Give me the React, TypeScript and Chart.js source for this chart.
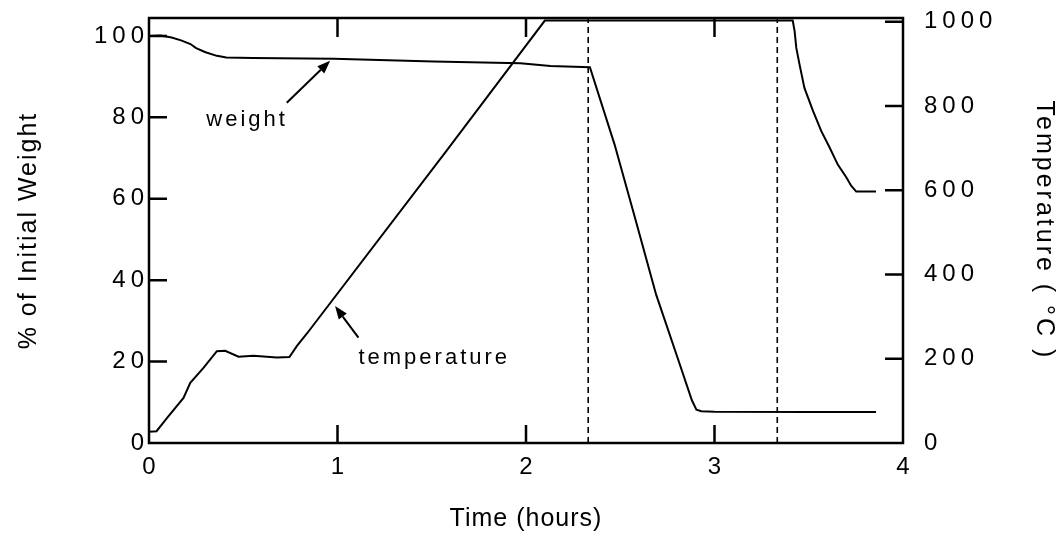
import React, { useEffect, useRef } from 'react';
import { Chart, registerables } from 'chart.js';

Chart.register(...registerables);

// ---------- data ----------
const TIME_W = [0, 0.06, 0.12, 0.17, 0.22, 0.25, 0.3, 0.36, 0.41, 0.55, 0.98, 1.51, 1.97, 2.13, 2.339, 2.47, 2.58, 2.69, 2.8, 2.88, 2.904, 2.93, 3.0, 3.5, 3.857];
const WEIGHT = [100, 100.1, 99.6, 98.9, 98.0, 97.0, 96.0, 95.1, 94.7, 94.6, 94.4, 93.7, 93.3, 92.6, 92.3, 73.3, 55, 36.5, 21.5, 10.5, 8.2, 7.8, 7.7, 7.6, 7.6];

const TIME_T = [0, 0.04, 0.095, 0.183, 0.219, 0.29, 0.36, 0.404, 0.475, 0.554, 0.678, 0.745, 0.784, 0.838, 1.579, 2.1, 3.415, 3.425, 3.434, 3.451, 3.477, 3.522, 3.566, 3.61, 3.654, 3.699, 3.725, 3.752, 3.857];
const TEMP = [27, 28, 59, 107, 143, 179, 218, 219, 205, 207, 203, 204, 230, 260, 694, 1003, 1003, 978, 938, 899, 843, 789, 741, 702, 661, 631, 611, 597, 597];

const DASH_TIMES = [2.33, 3.333];

const X_TICKS = [0, 1, 2, 3, 4];
const Y_TICKS = [0, 20, 40, 60, 80, 100];
const Y2_TICKS = [0, 200, 400, 600, 800, 1000];

const X_TITLE = 'Time (hours)';
const Y_TITLE = '% of Initial Weight';
const Y2_TITLE = 'Temperature ( °C )';

const WEIGHT_LABEL = 'weight';
const TEMP_LABEL = 'temperature';

// ---------- layout / style ----------
const W = 1059;
const H = 545;
const FONT = '"Liberation Sans", Arial, Helvetica, sans-serif';
const X_MIN = 0, X_MAX = 4;
const Y_MIN = 0, Y_MAX = 104.4;
const Y2_MIN = 0, Y2_MAX = 1009;

// annotation anchors (data coordinates)
const WEIGHT_NOTE = { x: 0.304, y: 77.8, tailX: 0.731, tailY: 83.6, tipX: 0.961, tipY: 93.9 };
const TEMP_NOTE = { x: 1.111, y: 187, tailX: 1.111, tailY: 250, tipX: 0.987, tipY: 325 };

function drawArrow(ctx: CanvasRenderingContext2D, x1: number, y1: number, x2: number, y2: number) {
  const ang = Math.atan2(y2 - y1, x2 - x1);
  const hl = 13, hw = 5;
  const bx = x2 - hl * Math.cos(ang);
  const by = y2 - hl * Math.sin(ang);
  ctx.beginPath();
  ctx.moveTo(x1, y1);
  ctx.lineTo(bx, by);
  ctx.stroke();
  ctx.beginPath();
  ctx.moveTo(x2, y2);
  ctx.lineTo(bx + hw * Math.sin(ang), by - hw * Math.cos(ang));
  ctx.lineTo(bx - hw * Math.sin(ang), by + hw * Math.cos(ang));
  ctx.closePath();
  ctx.fill();
}

const spacingPlugin = {
  id: 'spacing',
  beforeDraw(chart: any) {
    const ctx = chart.ctx;
    const conf: Record<string, [string, string]> = { x: ['1px', '5px'], y: ['2px', '5px'], y2: ['3px', '5px'] };
    Object.keys(conf).forEach((id) => {
      const sc = chart.scales[id];
      if (!sc || sc._spWrapped) return;
      const [ts, ls] = conf[id];
      const dt = sc.drawTitle;
      const dl = sc.drawLabels;
      sc.drawTitle = function (...args: any[]) {
        ctx.save();
        ctx.letterSpacing = ts;
        dt.apply(this, args);
        ctx.restore();
      };
      sc.drawLabels = function (...args: any[]) {
        ctx.save();
        ctx.letterSpacing = ls;
        dl.apply(this, args);
        ctx.restore();
      };
      sc._spWrapped = true;
    });
  },
};

const framePlugin = {
  id: 'frame',
  afterDatasetsDraw(chart: any) {
    const { ctx, chartArea: a, scales } = chart;
    ctx.save();
    ctx.strokeStyle = '#000';
    ctx.fillStyle = '#000';
    ctx.lineWidth = 2.5;
    ctx.strokeRect(a.left, a.top, a.right - a.left, a.bottom - a.top);
    ctx.beginPath();
    X_TICKS.forEach((v) => {
      if (v <= X_MIN || v >= X_MAX) return;
      const px = scales.x.getPixelForValue(v);
      ctx.moveTo(px, a.bottom);
      ctx.lineTo(px, a.bottom - 18);
      ctx.moveTo(px, a.top);
      ctx.lineTo(px, a.top + 19);
    });
    Y_TICKS.forEach((v) => {
      if (v <= Y_MIN) return;
      const py = scales.y.getPixelForValue(v);
      ctx.moveTo(a.left, py);
      ctx.lineTo(a.left + 18, py);
    });
    Y2_TICKS.forEach((v) => {
      if (v <= Y2_MIN) return;
      const py = scales.y2.getPixelForValue(v);
      ctx.moveTo(a.right, py);
      ctx.lineTo(a.right - 18, py);
    });
    ctx.stroke();

    // annotations
    ctx.font = `22px ${FONT}`;
    (ctx as any).letterSpacing = '3px';
    ctx.textBaseline = 'alphabetic';
    ctx.textAlign = 'left';
    ctx.lineWidth = 2;
    const sx = scales.x, sy = scales.y, sy2 = scales.y2;
    ctx.fillText(WEIGHT_LABEL, sx.getPixelForValue(WEIGHT_NOTE.x), sy.getPixelForValue(WEIGHT_NOTE.y));
    drawArrow(ctx,
      sx.getPixelForValue(WEIGHT_NOTE.tailX), sy.getPixelForValue(WEIGHT_NOTE.tailY),
      sx.getPixelForValue(WEIGHT_NOTE.tipX), sy.getPixelForValue(WEIGHT_NOTE.tipY));
    ctx.fillText(TEMP_LABEL, sx.getPixelForValue(TEMP_NOTE.x), sy2.getPixelForValue(TEMP_NOTE.y));
    drawArrow(ctx,
      sx.getPixelForValue(TEMP_NOTE.tailX), sy2.getPixelForValue(TEMP_NOTE.tailY),
      sx.getPixelForValue(TEMP_NOTE.tipX), sy2.getPixelForValue(TEMP_NOTE.tipY));
    ctx.restore();
  },
};

export default function App() {
  const ref = useRef<HTMLCanvasElement>(null);

  useEffect(() => {
    if (!ref.current) return;
    const weightData = TIME_W.map((t, i) => ({ x: t, y: WEIGHT[i] }));
    const tempData = TIME_T.map((t, i) => ({ x: t, y: TEMP[i] }));
    const dashSets = DASH_TIMES.map((t) => ({
      label: `marker ${t}`,
      data: [{ x: t, y: Y_MIN }, { x: t, y: Y_MAX }],
      yAxisID: 'y',
      borderColor: '#000',
      borderWidth: 1.6,
      borderDash: [6, 4],
      pointRadius: 0,
      fill: false,
    }));

    const tickFont = { family: FONT, size: 24 };
    const titleFont = { family: FONT, size: 25 };

    const chart = new Chart(ref.current, {
      type: 'line',
      data: {
        datasets: [
          {
            label: 'weight',
            data: weightData,
            yAxisID: 'y',
            borderColor: '#000',
            borderWidth: 2,
            pointRadius: 0,
            tension: 0,
            fill: false,
          },
          {
            label: 'temperature',
            data: tempData,
            yAxisID: 'y2',
            borderColor: '#000',
            borderWidth: 2,
            pointRadius: 0,
            tension: 0,
            fill: false,
          },
          ...dashSets,
        ] as any,
      },
      options: {
        animation: false,
        responsive: false,
        devicePixelRatio: 1,
        events: [],
        layout: { padding: { top: 18, left: 0, right: 0, bottom: 0 } },
        plugins: { legend: { display: false }, tooltip: { enabled: false } },
        scales: {
          x: {
            type: 'linear',
            min: X_MIN,
            max: X_MAX,
            afterBuildTicks: (s: any) => { s.ticks = X_TICKS.map((v) => ({ value: v })); },
            afterFit: (s: any) => { s.height = 102; s.paddingLeft = 0; s.paddingRight = 0; },
            grid: { display: false, drawTicks: false },
            border: { display: false },
            ticks: {
              color: '#000', font: tickFont, padding: 10, labelOffset: 2.5,
              maxRotation: 0, autoSkip: false, callback: (v: any) => String(v),
            },
            title: { display: true, text: X_TITLE, color: '#000', font: titleFont, padding: { top: 0, bottom: 11 } },
          },
          y: {
            type: 'linear',
            position: 'left',
            min: Y_MIN,
            max: Y_MAX,
            afterBuildTicks: (s: any) => { s.ticks = Y_TICKS.map((v) => ({ value: v })); },
            afterFit: (s: any) => { s.width = 149; s.paddingTop = 0; s.paddingBottom = 0; },
            grid: { display: false, drawTicks: false },
            border: { display: false },
            ticks: { color: '#000', font: tickFont, padding: 0, autoSkip: false, callback: (v: any) => String(v) },
            title: { display: true, text: Y_TITLE, color: '#000', font: titleFont, padding: { top: 14, bottom: 0 } },
          },
          y2: {
            type: 'linear',
            position: 'right',
            min: Y2_MIN,
            max: Y2_MAX,
            afterBuildTicks: (s: any) => { s.ticks = Y2_TICKS.map((v) => ({ value: v })); },
            afterFit: (s: any) => { s.width = 156; s.paddingTop = 0; s.paddingBottom = 0; },
            grid: { display: false, drawTicks: false },
            border: { display: false },
            ticks: { color: '#000', font: tickFont, padding: 21, autoSkip: false, callback: (v: any) => String(v) },
            title: { display: true, text: Y2_TITLE, color: '#000', font: titleFont, padding: { top: 0, bottom: 0 } },
          },
        },
      } as any,
      plugins: [spacingPlugin, framePlugin],
    });
    return () => chart.destroy();
  }, []);

  return (
    <div style={{ position: 'absolute', left: 0, top: 0, width: W, height: H, background: '#fff' }}>
      <canvas ref={ref} width={W} height={H} style={{ width: W, height: H, display: 'block' }} />
    </div>
  );
}
